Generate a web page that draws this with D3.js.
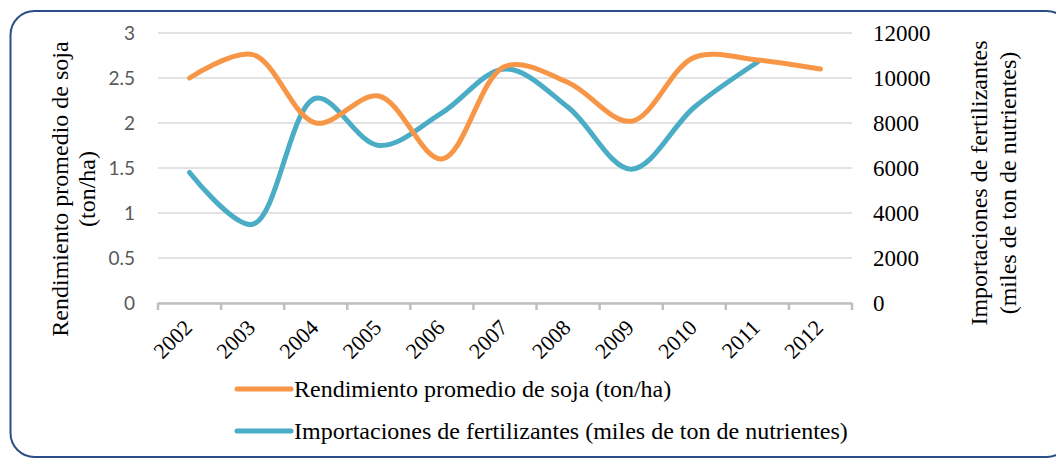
<!DOCTYPE html>
<html>
<head>
<meta charset="utf-8">
<script src="https://cdn.jsdelivr.net/npm/d3@7"></script>
<style>
  body { margin: 0; background: #fff; }
</style>
</head>
<body>
<div class="center"></div>
<script>
// data
var years = ["2002", "2003", "2004", "2005", "2006", "2007", "2008", "2009", "2010", "2011", "2012"];
var rendimiento = [2.5, 2.76, 2.0, 2.3, 1.6, 2.63, 2.45, 2.02, 2.73, 2.7, 2.6];
var importaciones = [5800, 3500, 9100, 7000, 8450, 10400, 8700, 5950, 8700, 10700, null];
var leftTicks = [0, 0.5, 1, 1.5, 2, 2.5, 3];
var rightTicks = [0, 2000, 4000, 6000, 8000, 10000, 12000];

var W = 1056, H = 459;
var plot = {left: 158, right: 852, top: 33, bottom: 303};
var serif = "'Liberation Serif', 'Times New Roman', serif";
var orange = "#F79646", blue = "#4BACC6";

var svg = d3.select(".center").append("svg")
    .attr("width", W)
    .attr("height", H)
    .style("display", "block");

svg.append("rect").attr("width", W).attr("height", H).attr("fill", "#fff");

// rounded frame
svg.append("rect")
    .attr("x", 10.5).attr("y", 11)
    .attr("width", 1060).attr("height", 446)
    .attr("rx", 24).attr("ry", 24)
    .attr("fill", "none")
    .attr("stroke", "#2B4E87")
    .attr("stroke-width", 2);

// scales
var x = d3.scaleBand().domain(years).range([plot.left, plot.right]);
var y = d3.scaleLinear().domain([0, 3]).range([plot.bottom, plot.top]);
var y2 = d3.scaleLinear().domain([0, 12000]).range([plot.bottom, plot.top]);
var cx = function(d) { return x(d) + x.bandwidth() / 2; };

// gridlines
svg.append("g")
    .selectAll("line")
    .data(leftTicks)
    .enter().append("line")
    .attr("x1", plot.left).attr("x2", plot.right)
    .attr("y1", function(d) { return y(d); })
    .attr("y2", function(d) { return y(d); })
    .attr("stroke", "#D9D9D9")
    .attr("stroke-width", 1.5);

// left axis
var gl = svg.append("g")
    .attr("transform", "translate(" + (plot.left - 23) + ",0)")
    .call(d3.axisLeft(y).tickValues(leftTicks).tickSize(0).tickPadding(0)
        .tickFormat(function(d) { return String(d); }));
gl.select(".domain").remove();
gl.selectAll("text")
    .attr("font-family", "Lato, 'Open Sans', sans-serif")
    .attr("font-size", "19px")
    .attr("fill", "#595959");

// right axis
var gr = svg.append("g")
    .attr("transform", "translate(873,0)")
    .call(d3.axisRight(y2).tickValues(rightTicks).tickSize(0).tickPadding(0).tickFormat(d3.format("d")));
gr.select(".domain").remove();
gr.selectAll("text")
    .attr("font-family", serif)
    .attr("font-size", "23px")
    .attr("fill", "#000");

// category axis
var bounds = years.map(function(d) { return x(d); }).concat([plot.right]);
svg.append("line")
    .attr("x1", plot.left).attr("x2", plot.right)
    .attr("y1", plot.bottom + 0.5).attr("y2", plot.bottom + 0.5)
    .attr("stroke", "#BFBFBF")
    .attr("stroke-width", 2.5);
svg.append("g")
    .selectAll("line")
    .data(bounds)
    .enter().append("line")
    .attr("x1", function(d) { return d; })
    .attr("x2", function(d) { return d; })
    .attr("y1", plot.bottom)
    .attr("y2", plot.bottom + 7)
    .attr("stroke", "#BFBFBF")
    .attr("stroke-width", 2.5);

svg.append("g")
    .selectAll("text")
    .data(years)
    .enter().append("text")
    .attr("transform", function(d) { return "translate(" + (cx(d) + 4) + ",329) rotate(-45)"; })
    .attr("text-anchor", "end")
    .attr("font-family", serif)
    .attr("font-size", "22px")
    .attr("fill", "#000")
    .text(function(d) { return d; });

// lines
var line = d3.line()
    .defined(function(d) { return d[1] != null; })
    .curve(d3.curveCatmullRom)
    .x(function(d) { return cx(d[0]); });

svg.append("path")
    .datum(years.map(function(d, i) { return [d, importaciones[i]]; }))
    .attr("d", line.y(function(d) { return y2(d[1]); }))
    .attr("fill", "none")
    .attr("stroke", blue)
    .attr("stroke-width", 5)
    .attr("stroke-linecap", "round");

svg.append("path")
    .datum(years.map(function(d, i) { return [d, rendimiento[i]]; }))
    .attr("d", line.y(function(d) { return y(d[1]); }))
    .attr("fill", "none")
    .attr("stroke", orange)
    .attr("stroke-width", 5)
    .attr("stroke-linecap", "round");

// axis titles
var lt = svg.append("text")
    .attr("transform", "translate(68,189) rotate(-90)")
    .attr("text-anchor", "middle")
    .attr("font-family", serif)
    .attr("font-size", "24px")
    .attr("fill", "#000");
lt.append("tspan").attr("x", 0).attr("dy", 0).text("Rendimiento promedio de soja");
lt.append("tspan").attr("x", 0).attr("dy", 27).text("(ton/ha)");

var rt = svg.append("text")
    .attr("transform", "translate(987,183) rotate(-90)")
    .attr("text-anchor", "middle")
    .attr("font-family", serif)
    .attr("font-size", "24px")
    .attr("fill", "#000");
rt.append("tspan").attr("x", 0).attr("dy", 0).text("Importaciones de fertilizantes");
rt.append("tspan").attr("x", 0).attr("dy", 29).text("(miles de ton de nutrientes)");

// legend
var legendItems = [
    {name: "Rendimiento promedio de soja (ton/ha)", color: orange},
    {name: "Importaciones de fertilizantes (miles de ton de nutrientes)", color: blue}
];
var legend = svg.append("g").attr("transform", "translate(237,389)");
legendItems.forEach(function(d, i) {
    legend.append("line")
        .attr("x1", 0).attr("x2", 54)
        .attr("y1", i * 42).attr("y2", i * 42)
        .attr("stroke", d.color)
        .attr("stroke-width", 5)
        .attr("stroke-linecap", "round");
    legend.append("text")
        .attr("x", 57)
        .attr("y", i * 42 + 8)
        .attr("font-family", serif)
        .attr("font-size", "24px")
        .attr("fill", "#000")
        .text(d.name);
});
</script>
</body>
</html>
